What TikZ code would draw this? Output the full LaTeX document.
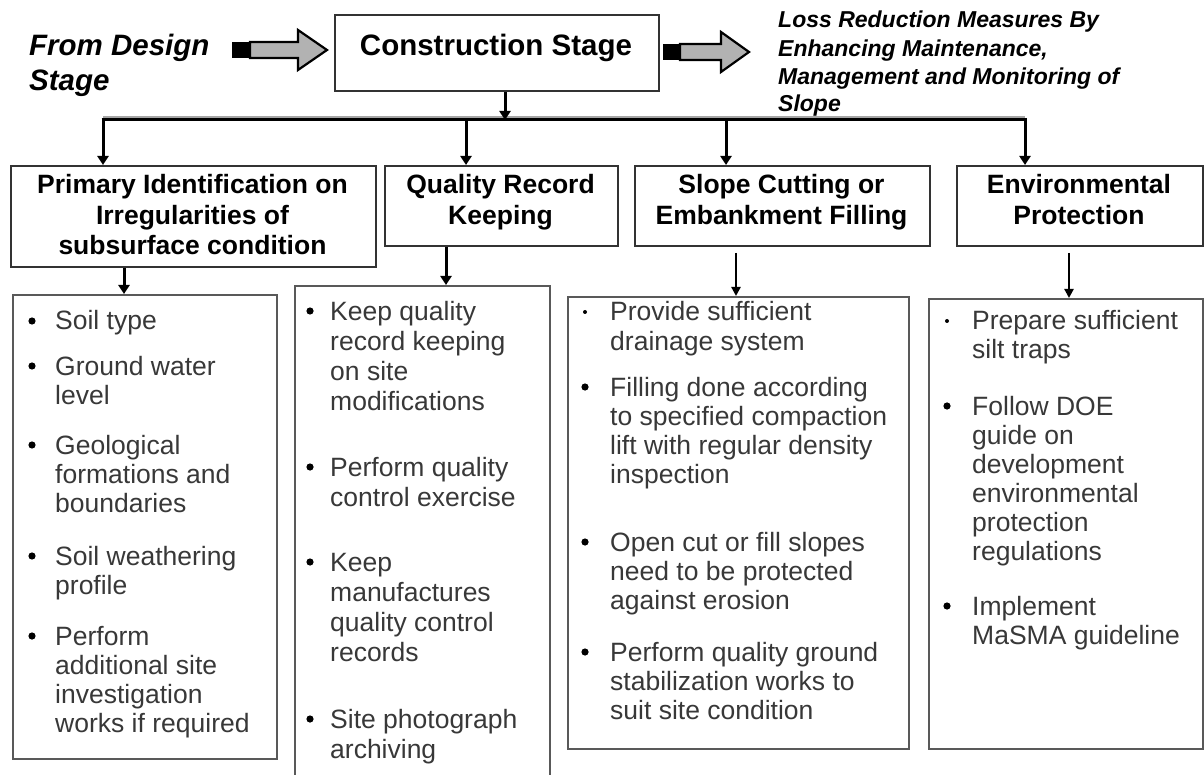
\documentclass[tikz,border=0pt]{standalone}
\usepackage{fontspec}
\setmainfont{Liberation Sans}
\usetikzlibrary{arrows.meta}
\begin{document}
\begin{tikzpicture}[x=1pt,y=-1pt,
  hbox/.style={draw=black!80, line width=1.8pt, inner sep=0, anchor=north west},
  lbox/.style={draw=black!65, line width=1.8pt, inner sep=0, anchor=north west},
  conn/.style={line width=3pt, black},
  arr/.style={line width=3pt, black, -{Triangle[width=11pt,length=9pt]}},
  sarr/.style={line width=2.2pt, black, -{Triangle[width=9pt,length=9pt]}},
  hd/.style={anchor=base, inner sep=0, font=\bfseries\fontsize{26.5}{30}\selectfont},
  bd/.style={anchor=base west, inner sep=0, text=black!78, font=\fontsize{26.5}{29}\selectfont},
  tt/.style={anchor=base west, inner sep=0, font=\bfseries\itshape\fontsize{29.5}{35}\selectfont},
  lt/.style={anchor=base west, inner sep=0, font=\bfseries\itshape\fontsize{23}{28}\selectfont},
  blockarrow/.style={fill=black!30, draw=black, line width=2.2pt, line join=miter},
]
\useasboundingbox (0,0) rectangle (1204,775);
\fill[white] (0,0) rectangle (1204,775);

% ---- top row ----
\node[tt] (fd1) at (29,56) {From Design};
\node[tt] (fd2) at (29,91) {Stage};

\fill[black] (232,42) rectangle (250,58);
\draw[blockarrow] (250,42) -- (298,42) -- (298,30) -- (327,50) -- (298,70) -- (298,58) -- (250,58) -- cycle;

\node[hbox, minimum width=324pt, minimum height=76pt] (cons) at (334,14) {};
\node[anchor=base, inner sep=0, font=\bfseries\fontsize{29.5}{35}\selectfont] (constext) at (496,56) {Construction Stage};

\fill[black] (663,44) rectangle (680,60);
\draw[blockarrow] (680,44) -- (721,44) -- (721,32) -- (749,52) -- (721,72) -- (721,60) -- (680,60) -- cycle;

\node[lt] (ls1) at (778,28) {Loss Reduction Measures By};
\node[lt] (ls2) at (778,57) {Enhancing Maintenance,};
\node[lt] (ls3) at (778,85) {Management and Monitoring of};
\node[lt] (ls4) at (778,112) {Slope};

% ---- header boxes ----
\node[hbox, minimum width=365pt, minimum height=101pt] (prim) at (10,165) {};
\node[hbox, minimum width=233pt, minimum height=80pt] (qual) at (384,165) {};
\node[hbox, minimum width=295pt, minimum height=80pt] (slope) at (634,165) {};
\node[hbox, minimum width=246pt, minimum height=80pt] (env) at (956,165) {};

\node[hd] (prim1) at (192.5,194) {Primary Identification on};
\node[hd] (prim2) at (192.5,225) {Irregularities of};
\node[hd] (prim3) at (192.5,255) {subsurface condition};
\node[hd] (qual1) at (500.5,194) {Quality Record};
\node[hd] (qual2) at (500.5,225) {Keeping};
\node[hd] (slope1) at (781.5,194) {Slope Cutting or};
\node[hd] (slope2) at (781.5,225) {Embankment Filling};
\node[hd] (env1) at (1079,194) {Environmental};
\node[hd] (env2) at (1079,225) {Protection};

% ---- distribution connectors ----
\coordinate (j0) at (505,120);
\coordinate (j1) at (103,120);
\coordinate (j2) at (466,120);
\coordinate (j3) at (726,120);
\coordinate (j4) at (1025,120);
\draw[line width=2pt, black!35] ([yshift=3pt]j1) -- ([yshift=3pt]j4);
\draw[conn] ([xshift=-1.5pt]j1) -- ([xshift=1.5pt]j4);
\draw[arr] (cons.south -| j0) -- (j0);
\draw[arr] (j1) -- (j1 |- prim.north);
\draw[arr] (j2) -- (j2 |- qual.north);
\draw[arr] (j3) -- (j3 |- slope.north);
\draw[arr] (j4) -- (j4 |- env.north);

% ---- list boxes ----
\node[lbox, minimum width=264pt, minimum height=464pt] (soil) at (12,294) {};
\node[lbox, minimum width=255pt, minimum height=520pt] (qlist) at (294,285) {};
\node[lbox, minimum width=341pt, minimum height=452pt] (slist) at (567,296) {};
\node[lbox, minimum width=274pt, minimum height=450pt] (elist) at (928,298) {};

\coordinate (b1) at (124,0);
\coordinate (b2) at (446,0);
\coordinate (b3) at (736,253);
\coordinate (b4) at (1069,253);
\draw[arr] (prim.south -| b1) -- (soil.north -| b1);
\draw[arr] (qual.south -| b2) -- (qlist.north -| b2);
\draw[sarr] (b3) -- (slist.north -| b3);
\draw[sarr] (b4) -- (elist.north -| b4);

% ---- list texts ----
\foreach \t/\y [count=\i] in {Soil type/330, Ground water/375, level/404, Geological/454, formations and/483, boundaries/512, Soil weathering/565, profile/594, Perform/645, additional site/674, investigation/703, works if required/732}
  \node[bd] (soilt\i) at (55,\y) {\t};
\foreach \y in {321,366,445,556,636} \fill (32,\y) circle (3.6pt);

\foreach \t/\y [count=\i] in {Keep quality/320, record keeping/350, on site/380, modifications/410, Perform quality/476, control exercise/506, Keep/571, manufactures/601, quality control/631, records/661, Site photograph/728, archiving/758}
  \node[bd] (qualt\i) at (330,\y) {\t};
\foreach \y in {311,467,562,719} \fill (310,\y) circle (3.6pt);

\foreach \t/\y [count=\i] in {Provide sufficient/321, drainage system/350, Filling done according/396, to specified compaction/425, lift with regular density/454, inspection/483, Open cut or fill slopes/551, need to be protected/580, against erosion/609, Perform quality ground/661, stabilization works to/690, suit site condition/719}
  \node[bd] (slopet\i) at (610,\y) {\t};
\fill (585,312) circle (2pt);
\foreach \y in {387,542,652} \fill (585,\y) circle (3.6pt);

\foreach \t/\y [count=\i] in {Prepare sufficient/330, silt traps/358, Follow DOE/415, guide on/444, development/473, environmental/502, protection/531, regulations/560, Implement/615, MaSMA guideline/644}
  \node[bd] (envt\i) at (972,\y) {\t};
\fill (947,321) circle (2pt);
\foreach \y in {406,606} \fill (947,\y) circle (3.6pt);
\end{tikzpicture}
\end{document}
